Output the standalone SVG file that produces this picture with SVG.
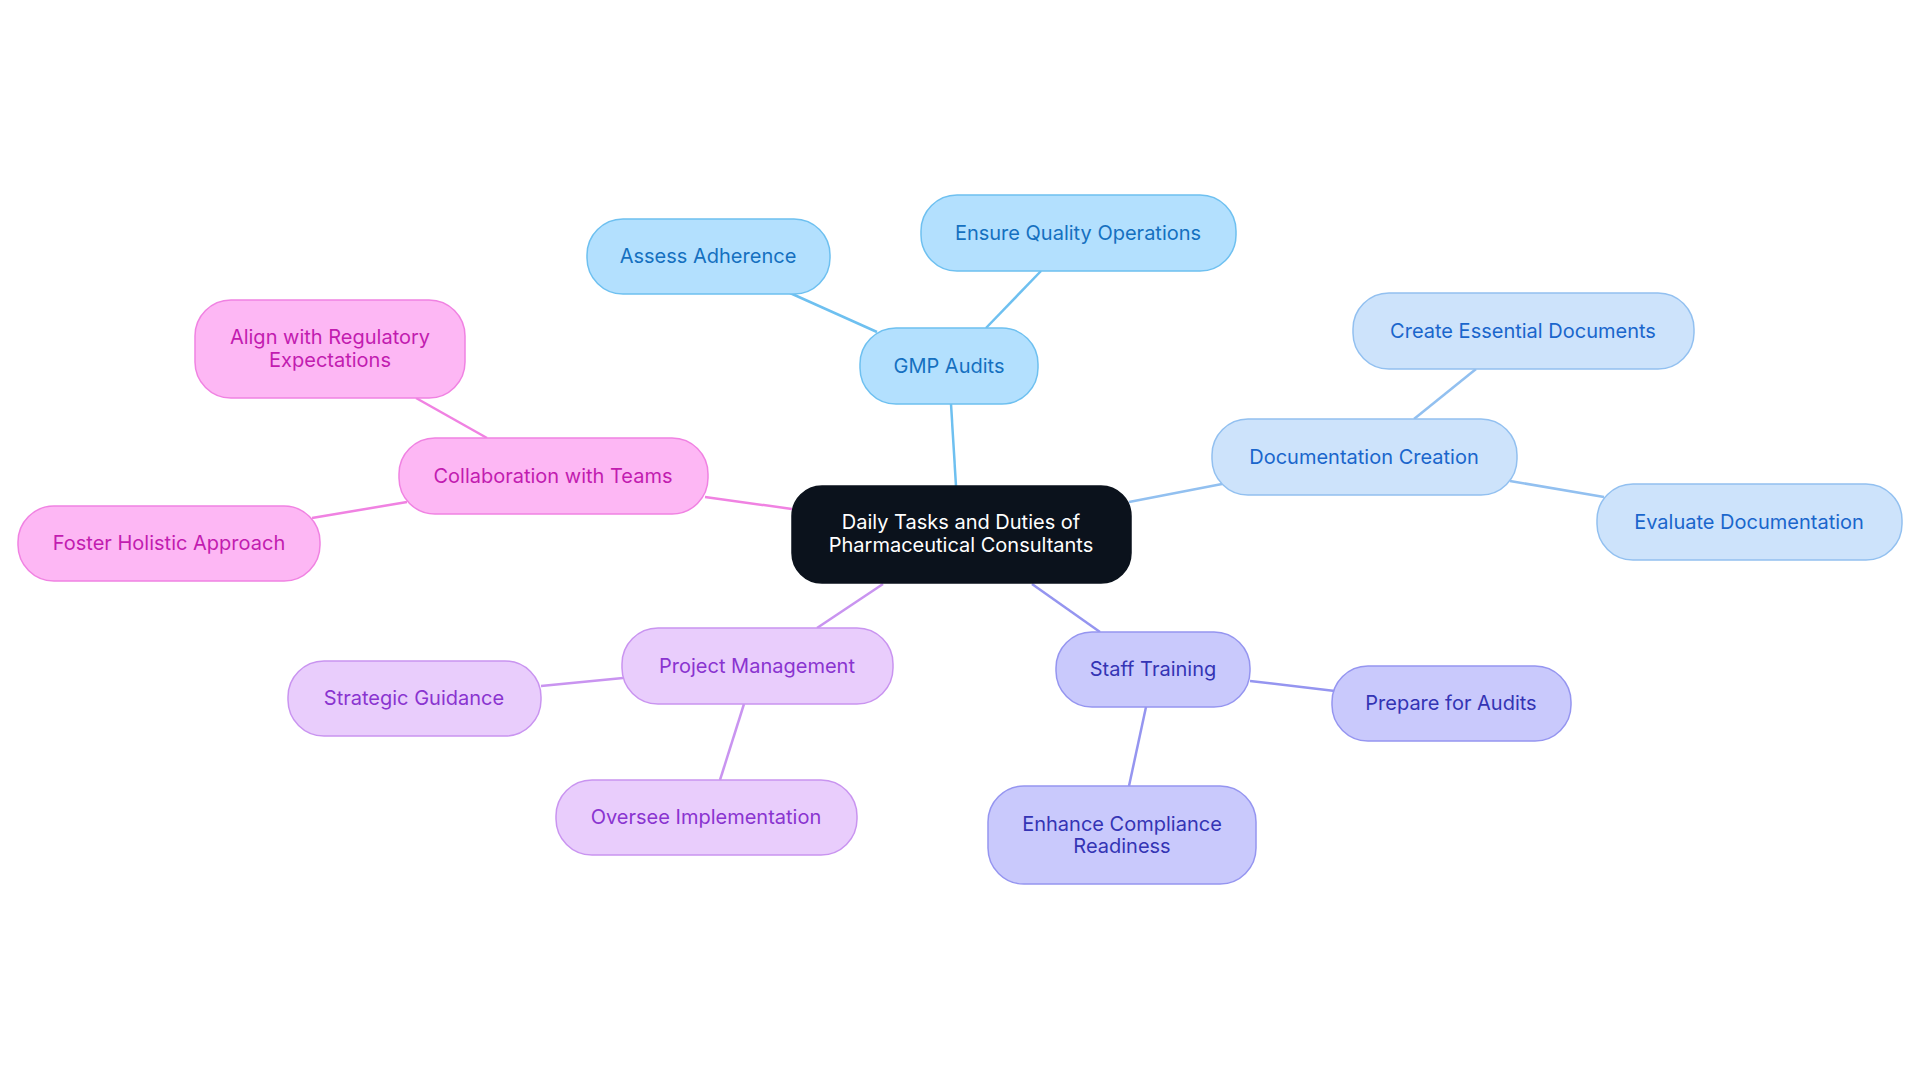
<svg xmlns="http://www.w3.org/2000/svg" width="1920" height="1083" viewBox="0 0 1920 1083">
<style>
text{font-family:Inter,"Liberation Sans",sans-serif;font-size:20px;text-anchor:middle;dominant-baseline:central}
rect{stroke-width:1.5}
.c rect{fill:#0b121c;stroke:#0b121c}.c text{fill:#fff}
.g rect{fill:#b3e0fe;stroke:#6ec0f0}.g text{fill:#1570c0}
.d rect{fill:#cde3fb;stroke:#92c0f0}.d text{fill:#1a66cc}
.s rect{fill:#c9c9fc;stroke:#9595f0}.s text{fill:#3434b4}
.p rect{fill:#e9cdfc;stroke:#c994f0}.p text{fill:#8a34d0}
.k rect{fill:#fdb7f4;stroke:#f082e2}.k text{fill:#c21cb0}
#edges line{stroke-width:2.5}
</style>
<rect width="1920" height="1083" fill="#fff"/>
<g id="edges">
<line x1="956" y1="486" x2="951" y2="404" stroke="#6ec0f0"/>
<line x1="877" y1="332" x2="790" y2="293" stroke="#6ec0f0"/>
<line x1="986" y1="328" x2="1041" y2="271" stroke="#6ec0f0"/>
<line x1="1129" y1="502" x2="1222" y2="484" stroke="#92c0f0"/>
<line x1="1414" y1="419" x2="1476" y2="369" stroke="#92c0f0"/>
<line x1="1510" y1="481" x2="1604" y2="497" stroke="#92c0f0"/>
<line x1="1032" y1="584" x2="1100" y2="632" stroke="#9595f0"/>
<line x1="1250" y1="681" x2="1335" y2="691" stroke="#9595f0"/>
<line x1="1146" y1="707" x2="1129" y2="786" stroke="#9595f0"/>
<line x1="883" y1="584" x2="817" y2="628" stroke="#c994f0"/>
<line x1="623" y1="678" x2="541" y2="686" stroke="#c994f0"/>
<line x1="744" y1="704" x2="720" y2="780" stroke="#c994f0"/>
<line x1="792" y1="509" x2="705" y2="497" stroke="#f082e2"/>
<line x1="487" y1="438" x2="416" y2="398" stroke="#f082e2"/>
<line x1="407" y1="502" x2="312" y2="518" stroke="#f082e2"/>
</g>
<g id="center" class="c"><rect x="792" y="486" width="339" height="97" rx="30"/><text x="961" y="522">Daily Tasks and Duties of</text><text x="961" y="545">Pharmaceutical Consultants</text></g>
<g id="gmp" class="g"><rect x="860" y="328" width="178" height="76" rx="36"/><text x="949" y="366">GMP Audits</text></g>
<g id="assess" class="g"><rect x="587" y="219" width="243" height="75" rx="36"/><text x="708" y="256">Assess Adherence</text></g>
<g id="ensure" class="g"><rect x="921" y="195" width="315" height="76" rx="36"/><text x="1078" y="233">Ensure Quality Operations</text></g>
<g id="doc" class="d"><rect x="1212" y="419" width="305" height="76" rx="36"/><text x="1364" y="457">Documentation Creation</text></g>
<g id="create" class="d"><rect x="1353" y="293" width="341" height="76" rx="36"/><text x="1523" y="331">Create Essential Documents</text></g>
<g id="evaluate" class="d"><rect x="1597" y="484" width="305" height="76" rx="36"/><text x="1749" y="522">Evaluate Documentation</text></g>
<g id="staff" class="s"><rect x="1056" y="632" width="194" height="75" rx="36"/><text x="1153" y="669">Staff Training</text></g>
<g id="prepare" class="s"><rect x="1332" y="666" width="239" height="75" rx="36"/><text x="1451" y="703">Prepare for Audits</text></g>
<g id="enhance" class="s"><rect x="988" y="786" width="268" height="98" rx="36"/><text x="1122" y="824">Enhance Compliance</text><text x="1122" y="846">Readiness</text></g>
<g id="project" class="p"><rect x="622" y="628" width="271" height="76" rx="36"/><text x="757" y="666">Project Management</text></g>
<g id="strategic" class="p"><rect x="288" y="661" width="253" height="75" rx="36"/><text x="414" y="698">Strategic Guidance</text></g>
<g id="oversee" class="p"><rect x="556" y="780" width="301" height="75" rx="36"/><text x="706" y="817">Oversee Implementation</text></g>
<g id="collab" class="k"><rect x="399" y="438" width="309" height="76" rx="36"/><text x="553" y="476">Collaboration with Teams</text></g>
<g id="align" class="k"><rect x="195" y="300" width="270" height="98" rx="36"/><text x="330" y="337">Align with Regulatory</text><text x="330" y="360">Expectations</text></g>
<g id="foster" class="k"><rect x="18" y="506" width="302" height="75" rx="36"/><text x="169" y="543">Foster Holistic Approach</text></g>
</svg>
